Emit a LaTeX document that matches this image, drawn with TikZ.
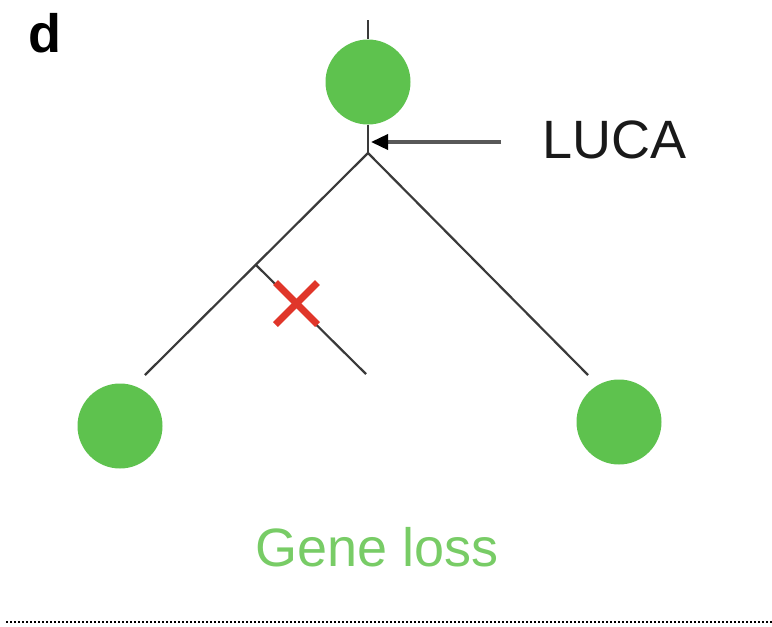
\documentclass[tikz,border=0pt]{standalone}
\usepackage{fontspec}
\setmainfont{Liberation Sans}
\usetikzlibrary{arrows.meta,calc}
\definecolor{cgreen}{HTML}{5EC24E}
\definecolor{tgreen}{HTML}{78CC66}
\definecolor{xred}{HTML}{E0362A}
\definecolor{lgray}{HTML}{3A3A3A}
\tikzset{
  cell/.style={circle,fill=cgreen,minimum size=85pt,inner sep=0pt},
  branch/.style={draw=lgray,line width=2.2pt},
  lbl/.style={font=\fontsize{54}{60}\selectfont,inner sep=0pt,anchor=base}
}
\begin{document}
\begin{tikzpicture}[x=1pt,y=-1pt]
\useasboundingbox (0,0) rectangle (772,627);
\node[cell] (top) at (368,82) {};
\node[cell] (left) at (120,426) {};
\node[cell] (right) at (619,422) {};
\coordinate (stem) at (368,20);
\coordinate (root) at (368,153);
\coordinate (lend) at (145,375);
\coordinate (rend) at (588,375);
\coordinate (split) at (256,265);
\coordinate (lossend) at (366,374);
\coordinate (xc) at (296.5,303.5);
\coordinate (arrstart) at (501,142);
\coordinate (arrend) at (371,142);
\draw[branch] (stem) -- (top.north);
\draw[branch] (top.south) -- (root);
\draw[branch] (root) -- (lend);
\draw[branch] (root) -- (rend);
\draw[branch] (split) -- (lossend);
\draw[xred,line width=7pt] ($(xc)+(-21,-21)$) -- ($(xc)+(21,21)$);
\draw[xred,line width=7pt] ($(xc)+(-21,21)$) -- ($(xc)+(21,-21)$);
\draw[draw=lgray!85,line width=3.5pt,-{Triangle[length=17pt,width=15pt,color=black]}] (arrstart) -- (arrend);
\node[lbl,text=black!90,anchor=base west] (luca) at (542,158) {LUCA};
\node[lbl,text=tgreen] (loss) at (377,566) {Gene loss};
\node[lbl,font=\fontsize{54}{60}\selectfont\bfseries,anchor=base west] (d) at (28,52) {d};
\draw[black,line width=2.6pt,dash pattern=on 2pt off 2pt] (6,622) -- (772,622);
\end{tikzpicture}
\end{document}
